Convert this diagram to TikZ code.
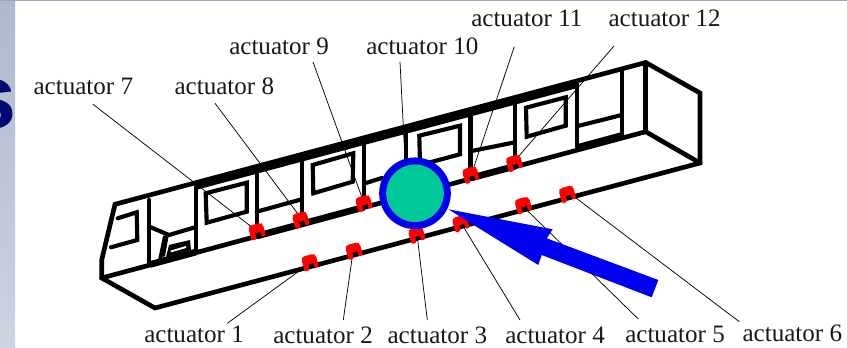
\documentclass[tikz,border=0pt]{standalone}
\usepackage{fontspec}
\setmainfont{Liberation Serif}
\newfontfamily\boldsans[BoldFont={Liberation Sans Bold}]{Liberation Sans}
\definecolor{stripTop}{HTML}{AEB8CF}
\definecolor{stripBot}{HTML}{CDD4E2}
\definecolor{topLine}{HTML}{9BA7C6}
\definecolor{navyS}{HTML}{000A6E}
\definecolor{ringBlue}{HTML}{0000F0}
\definecolor{discGreen}{HTML}{00C896}
\tikzset{
  body/.style={line width=3.5pt,line join=miter,line cap=round,black},
  heavy/.style={line width=5pt,line cap=butt,black},
  inner/.style={line width=3.1pt,line join=miter,line cap=round,black},
  leader/.style={line width=0.55pt,black},
  lab/.style={anchor=base west,inner sep=0pt,font=\fontsize{18.8pt}{20pt}\selectfont,text=black!90},
  clipmark/.pic={
    \fill[red,rounded corners=1.5pt,rotate=15] (-7.5,7.5) -- (-7.5,-5.5) -- (-5.5,-7.5) -- (5.5,-7.5) -- (7.5,-5.5) -- (7.5,6.5) -- (3,6.5) -- (3,1.5) -- (-2,1.5) -- (-2,7.5) -- cycle;
    \fill[black,rotate=15] (-2,1.5) rectangle (3,5);
  }
}
\begin{document}
\begin{tikzpicture}[x=0.75pt,y=-0.75pt]
\useasboundingbox (0,0) rectangle (847,348);
\fill[white] (0,0) rectangle (847,348);
% slide background
\shade[top color=stripTop,bottom color=stripBot] (0,0) rectangle (15,348);
\fill[topLine] (0,0) rectangle (847,1.3);
\begin{scope}
\clip (0,0) rectangle (15,348);
\node[anchor=base east,inner sep=0pt,text=navyS,font=\boldsans\bfseries\fontsize{69pt}{70pt}\selectfont] (letterS) at (16.5,129) {s};
\end{scope}
% named leader ends
\foreach \n/\sx/\sy/\ex/\ey in {
  1/227.3/323.3/303.3/268, 2/343.3/320/352.3/256.7, 3/427.3/320/417.7/240,
  4/520/320/464.3/228.3, 5/638.3/319/526.7/210, 6/739.3/321.7/575/197.3,
  7/93/104.3/253/228, 8/215/103.3/298/214, 9/313/62/361.7/196.7,
  10/400/62/405/159.3, 11/514.3/46.7/474/166.7, 12/614/46/518.3/156.7}{
  \coordinate (s\n) at (\sx,\sy);
  \coordinate (e\n) at (\ex,\ey);
}
% car body
\draw[body] (115,204.3) -- (645.7,62.5) -- (700,93) -- (700,163) -- (155,308) -- (101.7,278) -- (101.7,260) -- cycle;
\draw[body] (101.7,278) -- (645.7,131.7) -- (700,163);
\draw[body] (645.7,62.5) -- (645.7,131.7);
% thicker stretches
\draw[heavy] (196,186.5) -- (577.5,84.5);
\draw[heavy] (257,236) -- (364,207.2);
\draw[heavy] (471,178) -- (515,166.2);
\draw[heavy] (577.5,147.5) -- (621.7,135.5);
\draw[heavy] (150,264.5) -- (196,252);
% pillars
\draw[inner] (149.3,200) -- (149.3,263);
\draw[inner] (195.7,187) -- (195.7,250);
\draw[inner] (256.7,170) -- (256.7,230);
\draw[inner] (301.7,158) -- (301.7,216);
\draw[inner] (364,142) -- (364,200);
\draw[inner] (405.7,130) -- (405.7,158);
\draw[line width=3.6pt,black] (470.7,113.3) -- (470.7,170);
\draw[inner] (515,101.7) -- (515,158);
\draw[inner] (577.3,84) -- (577.3,146.7);
\draw[inner] (621.7,71.7) -- (621.7,135);
% mid bars
\draw[inner] (256.7,211.7) -- (301.7,199.3);
\draw[inner] (364,183.6) -- (382,178);
\draw[inner] (471.7,151) -- (515,142.3);
\draw[inner] (578,126) -- (621.7,115);
% windows
\draw[inner] (117.7,218.3) -- (136.7,212.3) -- (137.3,240) -- (111,247.3);
\draw[inner] (205.7,193.3) -- (246.7,182.7) -- (246.7,211.7) -- (206.7,222.7) -- cycle;
\draw[inner] (312.7,165) -- (353.3,153.3) -- (352.7,181.7) -- (313.3,193.3) -- cycle;
\draw[inner] (419.3,135.7) -- (460,125.7) -- (460,154.3) -- (420,165) -- cycle;
\draw[inner] (526,107.7) -- (565.7,97.3) -- (565.7,125.7) -- (526.7,136.7) -- cycle;
% door detail
\draw[inner] (149.3,226.7) -- (169,235) -- (195,227.3);
\fill[black] (163,236) -- (169,234) -- (165,256) -- (158,260) -- cycle;
\fill[black] (169,245) -- (190,240) -- (191,250) -- (166,257) -- cycle;
\fill[white] (171,250.5) -- (186,246) -- (186,248) -- (170.5,252.5) -- cycle;
% leaders
\foreach \n in {1,...,12}{\draw[leader] (s\n) -- (e\n);}
% actuator clips
\foreach \x/\y in {310/262.5,354/251,416.8/235,460.8/223.5,523.3/205.4,567.4/194.2,257/231.5,300.8/220,364/203.5,470.8/175,514.4/163.2}{
  \pic at (\x,\y) {clipmark};
}
% disc and arrow
\node[circle,draw=ringBlue,fill=discGreen,line width=5.25pt,minimum size=48.5pt,inner sep=0pt] (disc) at (415,193.3) {};
\fill[ringBlue] (448.3,209.3) -- (552.7,229.3) -- (546.7,238.3) -- (658.3,280) -- (651.7,297.3) -- (541.7,255) -- (538.3,265) -- cycle;
% labels
\node[lab] (l1) at (144,343) {actuator 1};
\node[lab] (l2) at (273,344) {actuator 2};
\node[lab] (l3) at (387.3,344) {actuator 3};
\node[lab] (l4) at (505,344) {actuator 4};
\node[lab] (l5) at (625,343) {actuator 5};
\node[lab] (l6) at (742.3,342) {actuator 6};
\node[lab] (l7) at (33.3,95) {actuator 7};
\node[lab] (l8) at (174.3,95) {actuator 8};
\node[lab] (l9) at (229,55) {actuator 9};
\node[lab] (l10) at (366,55) {actuator 10};
\node[lab] (l11) at (471,27) {actuator 11};
\node[lab] (l12) at (608.3,27) {actuator 12};
\end{tikzpicture}
\end{document}
